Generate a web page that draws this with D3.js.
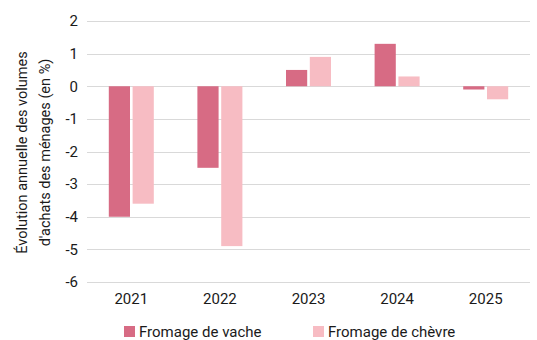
<!DOCTYPE html>
<html>
<head>
<meta charset="utf-8">
<script src="https://cdnjs.cloudflare.com/ajax/libs/d3/7.8.5/d3.min.js"></script>
<style>
  html, body { margin: 0; padding: 0; background: #fff; }
  svg { display: block; font-family: Roboto, "DejaVu Sans", sans-serif; }
</style>
</head>
<body>
<svg id="chart" width="537" height="340"></svg>
<script>
// Annual change in household purchase volumes (%)
const years = ["2021", "2022", "2023", "2024", "2025"];
const seriesNames = ["Fromage de vache", "Fromage de chèvre"];
const vache = [-4.0, -2.5, 0.5, 1.3, -0.1];
const chevre = [-3.6, -4.9, 0.9, 0.3, -0.4];
const colors = ["#d76b84", "#f7bcc3"];
const yTicks = [2, 1, 0, -1, -2, -3, -4, -5, -6];

const series = [vache, chevre];
const svg = d3.select("#chart");
const plot = { left: 87, right: 530, top: 21, bottom: 282 };

const x = d3.scaleBand().domain(years)
  .range([plot.left, plot.right])
  .paddingInner(0).paddingOuter(0);
const xInner = d3.scaleBand().domain(d3.range(series.length))
  .range([0, 45]).paddingInner(0.11);
const y = d3.scaleLinear().domain([-6, 2])
  .range([plot.bottom, plot.top]);

// gridlines
svg.append("g")
  .selectAll("line").data(yTicks).join("line")
  .attr("x1", plot.left).attr("x2", plot.right)
  .attr("y1", d => Math.round(y(d)) + 0.5).attr("y2", d => Math.round(y(d)) + 0.5)
  .attr("stroke", "#d9d9d9").attr("stroke-width", 1.2);

// y tick labels
const yAxis = d3.axisLeft(y).tickValues(yTicks).tickSize(0).tickPadding(0)
  .tickFormat(d => d3.format("d")(d).replace("−", "-"));
svg.append("g").attr("transform", `translate(${plot.left - 9},0)`)
  .call(yAxis)
  .call(g => g.select(".domain").remove())
  .call(g => g.selectAll("text").attr("font-size", 15).attr("fill", "#1a1a1a")
    .attr("font-family", "Roboto, sans-serif"));

// bars
const groups = svg.append("g").selectAll("g").data(years).join("g")
  .attr("transform", d => `translate(${x(d) + x.bandwidth() / 2 - 22.5},0)`);
groups.selectAll("rect")
  .data((d, i) => series.map((s, k) => ({ k, v: s[i] })))
  .join("rect")
  .attr("x", d => xInner(d.k))
  .attr("width", xInner.bandwidth())
  .attr("y", d => y(Math.max(0, d.v)))
  .attr("height", d => Math.abs(y(d.v) - y(0)))
  .attr("fill", d => colors[d.k]);

// x labels
const xAxis = d3.axisBottom(x).tickSize(0).tickPadding(0);
svg.append("g").attr("transform", `translate(0,${plot.bottom + 11})`)
  .call(xAxis)
  .call(g => g.select(".domain").remove())
  .call(g => g.selectAll("text").attr("font-size", 15).attr("fill", "#1a1a1a")
    .attr("font-family", "Roboto, sans-serif"));

// y title
const title = svg.append("text")
  .attr("transform", `translate(0,${(plot.top + plot.bottom) / 2 + 1}) rotate(-90)`)
  .attr("text-anchor", "middle")
  .attr("font-size", 14.5).attr("fill", "#1a1a1a");
title.append("tspan").attr("x", 0).attr("y", 27).text("Évolution annuelle des volumes");
title.append("tspan").attr("x", 0).attr("y", 50).text("d'achats des ménages (en %)");

// legend
const legendX = [124, 313];
const legend = svg.append("g").selectAll("g").data(seriesNames).join("g")
  .attr("transform", (d, i) => `translate(${legendX[i]},326)`);
legend.append("rect").attr("width", 11).attr("height", 11)
  .attr("fill", (d, i) => colors[i]);
legend.append("text").attr("x", 15).attr("y", 10.5)
  .attr("font-size", 15).attr("fill", "#1a1a1a").text(d => d);
</script>
</body>
</html>
